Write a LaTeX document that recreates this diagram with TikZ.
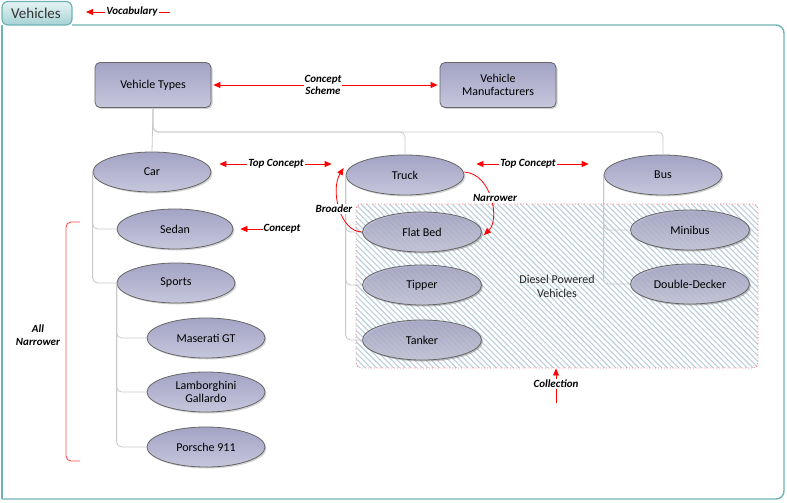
\documentclass[tikz,border=0pt]{standalone}
\usepackage{fontspec}
\setmainfont{Carlito}
\usetikzlibrary{arrows.meta,shadows,shapes.geometric}
\definecolor{tealc}{HTML}{6DB3B6}
\definecolor{tabtop}{HTML}{E6F3F3}
\definecolor{tabbot}{HTML}{A6D2D5}
\definecolor{lavA}{HTML}{A3A3C5}
\definecolor{lavB}{HTML}{C6C6DC}
\definecolor{treec}{HTML}{C8C8C8}
\definecolor{hatchc}{HTML}{BACEDC}
\definecolor{annc}{HTML}{FF0000}
\begin{document}
\begin{tikzpicture}[x=1pt,y=-1pt,
  conc/.style={ellipse, draw=black!60, line width=0.8pt, top color=lavA, bottom color=lavB,
    minimum width=118pt, minimum height=40pt, inner sep=0pt, align=center,
    font=\fontsize{12}{13.5}\selectfont,
    drop shadow={shadow xshift=1.5pt, shadow yshift=-1.5pt, opacity=0.35}},
  inconc/.style={conc, fill opacity=0.8, text opacity=1, draw opacity=1,
    drop shadow={shadow xshift=1.5pt, shadow yshift=-1.5pt, opacity=0.2}},
  schemebox/.style={rectangle, rounded corners=5pt, draw=black!60, line width=0.8pt,
    top color=lavA, bottom color=lavB, minimum width=116pt, minimum height=45pt,
    inner sep=0pt, align=center, font=\fontsize{12}{13.5}\selectfont,
    drop shadow={shadow xshift=1.5pt, shadow yshift=-1.5pt, opacity=0.35}},
  treeline/.style={draw=treec, line width=0.8pt, rounded corners=5pt},
  ann/.style={draw=annc, line width=0.8pt},
  tipR/.style={-{Triangle[length=7pt,width=6pt]}},
  tipLR/.style={{Triangle[length=7pt,width=6pt]}-{Triangle[length=7pt,width=6pt]}},
  annlabel/.style={fill=white, inner sep=1pt, align=center,
    font=\fontsize{11}{12.5}\selectfont\bfseries\itshape}
]
\useasboundingbox (0,0) rectangle (787,503);
% frame
\draw[draw=tealc, line width=1.4pt, rounded corners=8pt] (72,25) -- (784,25) -- (784,499) -- (2,499);
\draw[draw=tealc, line width=1.4pt] (2,499) -- (2,25);
% tab
\path[draw=tealc, line width=1.2pt, top color=tabtop, bottom color=tabbot, rounded corners=6pt]
  (2,25) -- (2,1.5) -- (72,1.5) -- (72,25) -- cycle;
\node[font=\fontsize{15}{16}\selectfont, text=black!80] (tab) at (36,13) {Vehicles};
% vocabulary annotation
\coordinate (vocA) at (170,12);
\coordinate (vocB) at (86,12);
\draw[ann, tipR] (vocA) -- (vocB);
\node[annlabel] (voc) at (132,12) {Vocabulary};

% collection (hatched region, under the concepts)
\begin{scope}
  \clip[rounded corners=5pt] (356,204) rectangle (758,368);
  \foreach \xx in {190,195.7,...,760} {
    \draw[hatchc, line width=1.1pt] (\xx,204) -- ++(164,164);
  }
\end{scope}
\node[rectangle, rounded corners=5pt, draw=annc!55, dotted, line width=0.9pt,
  minimum width=402pt, minimum height=164pt] (coll) at (557,286) {};
\node[align=center, font=\fontsize{12}{14}\selectfont, text=black!85] (colltext) at (557,286) {Diesel Powered\\Vehicles};

% scheme boxes
\node[schemebox] (vt) at (153,85) {Vehicle Types};
\node[schemebox] (vm) at (498,85) {Vehicle\\Manufacturers};

\coordinate (hy) at (0,132);

% concepts
\node[conc] (car) at (152,172) {Car};
\node[conc] (truck) at (405,175) {Truck};
\node[conc] (bus) at (663,175) {Bus};
\node[conc, minimum width=116pt] (sedan) at (175,229) {Sedan};
\node[conc] (sports) at (176,283) {Sports};
\node[conc] (maserati) at (206,338) {Maserati GT};
\node[conc] (lambo) at (206,392) {Lamborghini\\Gallardo};
\node[conc] (porsche) at (206,447) {Porsche 911};
\node[inconc, minimum width=119pt] (flatbed) at (422,232) {Flat Bed};
\node[inconc, minimum width=119pt] (tipper) at (422,285) {Tipper};
\node[inconc, minimum width=119pt] (tanker) at (422,340) {Tanker};
\node[inconc, minimum width=119pt] (minibus) at (690,230) {Minibus};
\node[inconc, minimum width=119pt] (dd) at (690,284) {Double-Decker};

% tree lines
\draw[treeline] (vt.south) |- (hy -| truck.north) -- (truck.north);
\draw[treeline] (vt.south) |- (hy -| bus.north) -- (bus.north);
\draw[treeline] (vt.south) -- (car.north);
\draw[treeline] (car.west) |- (sedan.west);
\draw[treeline] (car.west) |- (sports.west);
\draw[treeline] (sports.west) |- (maserati.west);
\draw[treeline] (sports.west) |- (lambo.west);
\draw[treeline] (sports.west) |- (porsche.west);
\draw[treeline] (truck.west) |- (flatbed.west);
\draw[treeline] (truck.west) |- (tipper.west);
\draw[treeline] (truck.west) |- (tanker.west);
\draw[treeline] (bus.west) |- (minibus.west);
\draw[treeline] (bus.west) |- (dd.west);

% concept scheme arrow
\draw[ann, tipLR, shorten <=2pt, shorten >=2pt] (vt.east) -- (vm.west);
\node[annlabel] (cs) at (323,85) {Concept\\Scheme};

% top concept arrows
\draw[ann, tipLR] ([xshift=8pt,yshift=8pt]car.east) -- ([xshift=-14pt,yshift=11pt]truck.west);
\node[annlabel] (tc1) at (276,164) {Top Concept};
\draw[ann, tipLR] ([xshift=12pt,yshift=11pt]truck.east) -- ([xshift=-15pt,yshift=11pt]bus.west);
\node[annlabel] (tc2) at (528,164) {Top Concept};

% concept arrow
\coordinate (cA) at (300,229);
\draw[ann, tipR] (cA) -- ([xshift=7pt]sedan.east);
\node[annlabel] (cpt) at (282,229) {Concept};

% broader / narrower
\draw[ann, tipR] (flatbed.west) .. controls (340,232) and (330,190) .. ([xshift=-2pt,yshift=7pt]truck.west);
\node[annlabel] (br) at (334,209) {Broader};
\draw[ann, tipR] ([yshift=3pt]truck.east) .. controls (492,174) and (500,220) .. ([xshift=2pt,yshift=-3pt]flatbed.east);
\node[annlabel] (nr) at (495,198) {Narrower};

% all narrower bracket
\draw[draw=annc!70, line width=0.9pt, rounded corners=5pt] (80,222) -- (66,222) -- (66,461) -- (80,461);
\node[annlabel, fill=none] (alln) at (38,335) {All\\Narrower};

% collection arrow
\coordinate (colA) at (556,403);
\draw[ann, tipR] (colA) -- (coll.south -| colA);
\node[annlabel] (collab) at (556,384) {Collection};
\end{tikzpicture}
\end{document}
